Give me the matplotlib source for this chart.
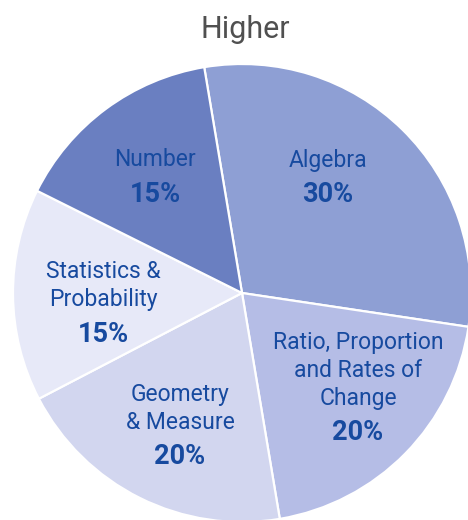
import matplotlib
matplotlib.use("Agg")
import matplotlib.pyplot as plt

title = "Higher"
categories = ["Algebra", "Ratio, Proportion\nand Rates of\nChange", "Geometry\n& Measure",
              "Statistics &\nProbability", "Number"]
percentages = [30, 20, 20, 15, 15]
colors = ["#8e9fd4", "#b5bde6", "#d2d6ef", "#e7e9f8", "#6a7fc1"]

# label anchor positions in pixels (x, y of first line) from top-left
label_px = [(328, 160), (358, 343), (180, 395), (103, 272), (155, 160)]

W, H = 468, 520
CX, CY, R = 242, 293, 229

fig = plt.figure(figsize=(W / 100, H / 100), dpi=100)
ax = fig.add_axes([0, 0, 1, 1])

ax.pie(percentages, colors=colors, startangle=99.5, counterclock=False,
       radius=1.0, center=(0, 0), frame=True,
       wedgeprops=dict(edgecolor="white", linewidth=1.6))
ax.set_xlim(-CX / R, (W - CX) / R)
ax.set_ylim(-(H - CY) / R, CY / R)
ax.set_aspect("auto")
ax.axis("off")

fam = ["Roboto", "DejaVu Sans"]
txt_color = "#174a9f"

def px2d(x, y):
    return ((x - CX) / R, (CY - y) / R)

for name, pct, (x, y) in zip(categories, percentages, label_px):
    lines = name.split("\n")
    for i, line in enumerate(lines):
        dx, dy = px2d(x, y + i * 27.5)
        ax.text(dx, dy, line, ha="center", va="center", fontsize=16.5,
                color=txt_color, family=fam)
    dx, dy = px2d(x, y + len(lines) * 27.5 + 7)
    ax.text(dx, dy, f"{pct}%", ha="center", va="center", fontsize=19.5,
            fontweight="bold", color=txt_color, family=fam)

tx, ty = px2d(245, 29)
ax.text(tx, ty, title, ha="center", va="center", fontsize=22, color="#505050", family=fam)

fig.savefig("out.png", dpi=100)
